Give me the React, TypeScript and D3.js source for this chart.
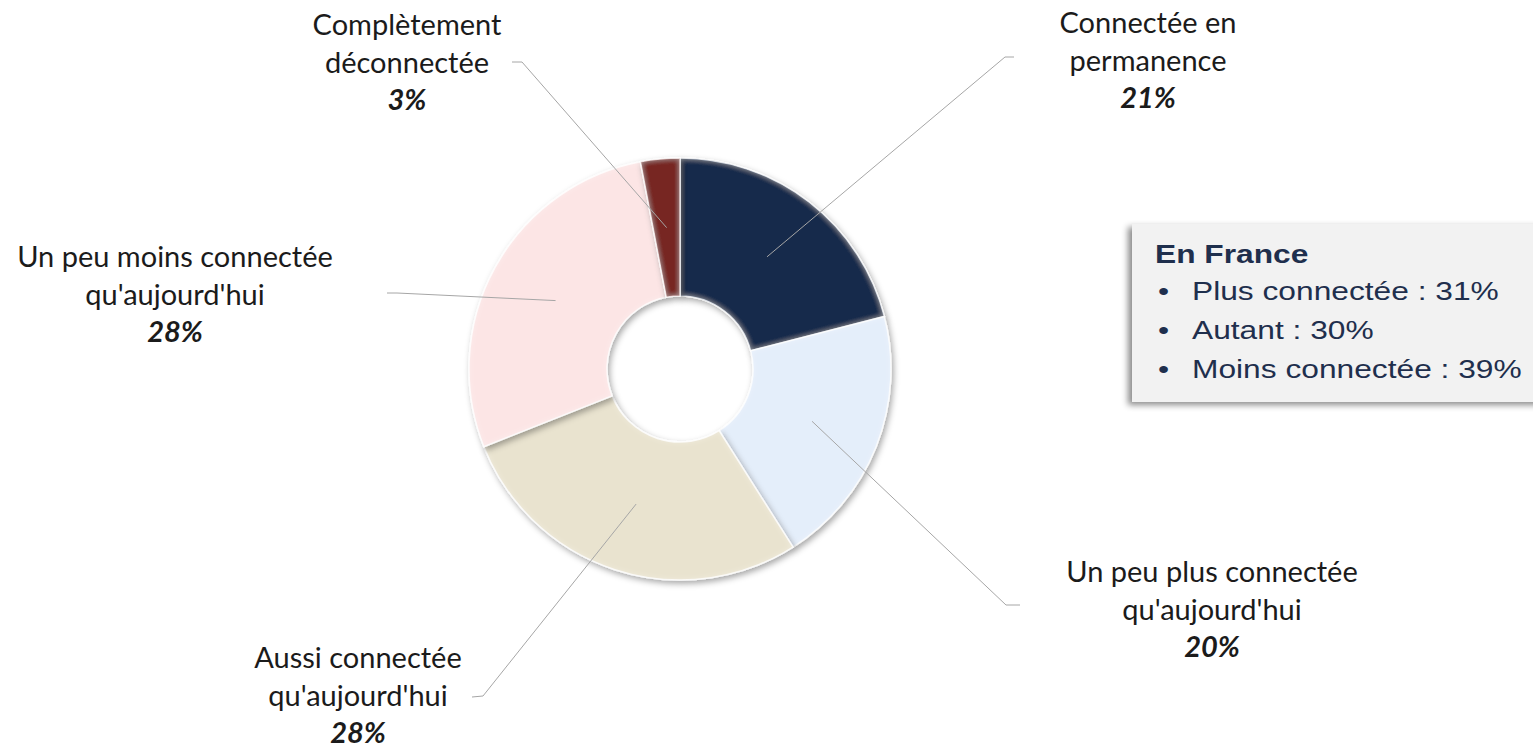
import React, { useRef, useEffect } from "react";
import * as d3 from "d3";

// Chart data
const categories = [
  "Connectée en permanence",
  "Un peu plus connectée qu'aujourd'hui",
  "Aussi connectée qu'aujourd'hui",
  "Un peu moins connectée qu'aujourd'hui",
  "Complètement déconnectée",
];
const values = [21, 20, 28, 28, 3];
const labelLines = [
  ["Connectée en", "permanence"],
  ["Un peu plus connectée", "qu'aujourd'hui"],
  ["Aussi connectée", "qu'aujourd'hui"],
  ["Un peu moins connectée", "qu'aujourd'hui"],
  ["Complètement", "déconnectée"],
];
const franceTitle = "En France";
const franceItems = ["Plus connectée : 31%", "Autant : 30%", "Moins connectée : 39%"];

// Styles / layout
const colors = ["#182B4C", "#E4EEFA", "#E9E3CF", "#FCE5E5", "#772623"];
// text centre x, first baseline, elbow point and end of leader line
const labelLayout = [
  { x: 1148, y: 33, elbow: [1005, 57], end: [1014, 57] },
  { x: 1212, y: 582, elbow: [1006, 605], end: [1020, 605] },
  { x: 358, y: 668, elbow: [483, 696], end: [472, 697] },
  { x: 175, y: 267, elbow: [397, 293], end: [387, 293] },
  { x: 407, y: 35, elbow: [522, 62], end: [512, 62] },
];

const W = 1533;
const H = 751;

const App = () => {
  const svgRef = useRef<SVGSVGElement>(null);

  useEffect(() => {
    const root = d3.select(svgRef.current);
    root.selectAll("*").remove();
    root.attr("width", W).attr("height", H);

    const defs = root.append("defs");

    // light rim + drop shadow for the slices
    const bevel = defs
      .append("filter")
      .attr("id", "bevel")
      .attr("x", "-20%")
      .attr("y", "-20%")
      .attr("width", "140%")
      .attr("height", "140%");
    bevel.append("feGaussianBlur").attr("in", "SourceAlpha").attr("stdDeviation", 3).attr("result", "blur");
    bevel
      .append("feComponentTransfer")
      .attr("in", "blur")
      .attr("result", "inv")
      .append("feFuncA")
      .attr("type", "table")
      .attr("tableValues", "1 0");
    bevel
      .append("feComposite")
      .attr("in", "inv")
      .attr("in2", "SourceAlpha")
      .attr("operator", "in")
      .attr("result", "rim");
    bevel.append("feFlood").attr("flood-color", "#ffffff").attr("flood-opacity", 0.4).attr("result", "white");
    bevel
      .append("feComposite")
      .attr("in", "white")
      .attr("in2", "rim")
      .attr("operator", "in")
      .attr("result", "rimW");
    bevel.append("feOffset").attr("in", "SourceAlpha").attr("dx", 2).attr("dy", 3).attr("result", "off");
    bevel.append("feGaussianBlur").attr("in", "off").attr("stdDeviation", 3).attr("result", "sh");
    bevel.append("feFlood").attr("flood-color", "#000").attr("flood-opacity", 0.35);
    bevel.append("feComposite").attr("in2", "sh").attr("operator", "in").attr("result", "shadow");
    const merge = bevel.append("feMerge");
    merge.append("feMergeNode").attr("in", "shadow");
    merge.append("feMergeNode").attr("in", "SourceGraphic");
    merge.append("feMergeNode").attr("in", "rimW");

    // shadow for the info box
    defs
      .append("filter")
      .attr("id", "boxShadow")
      .attr("x", "-10%")
      .attr("y", "-10%")
      .attr("width", "120%")
      .attr("height", "130%")
      .append("feDropShadow")
      .attr("dx", -4)
      .attr("dy", 3)
      .attr("stdDeviation", 3)
      .attr("flood-color", "#000")
      .attr("flood-opacity", 0.45);

    root.append("rect").attr("width", W).attr("height", H).attr("fill", "#fff");

    // Donut
    const cx = 680;
    const cy = 369;
    const innerRadius = 73;
    const outerRadius = 211;

    const pie = d3
      .pie<number>()
      .value((d) => d)
      .sort(null);
    const arc = d3.arc<d3.PieArcDatum<number>>().innerRadius(innerRadius).outerRadius(outerRadius);
    const arcs = pie(values);

    const g = root.append("g").attr("transform", `translate(${cx},${cy})`);

    g.selectAll("path.slice")
      .data(arcs)
      .enter()
      .append("path")
      .attr("class", "slice")
      .attr("d", arc)
      .attr("fill", (d, i) => colors[i])
      .attr("stroke", "#ffffff")
      .attr("stroke-opacity", 0.8)
      .attr("stroke-width", 1.5)
      .attr("filter", "url(#bevel)");

    // Leader lines
    const line = d3.line();
    root
      .append("g")
      .selectAll("path.leader")
      .data(arcs)
      .enter()
      .append("path")
      .attr("class", "leader")
      .attr("d", (d, i) => {
        const [px, py] = arc.centroid(d);
        const lay = labelLayout[i];
        return line([
          [cx + px, cy + py],
          lay.elbow as [number, number],
          lay.end as [number, number],
        ]);
      })
      .attr("fill", "none")
      .attr("stroke", "#A6A6A6")
      .attr("stroke-width", 1);

    // Labels
    const labels = root
      .append("g")
      .selectAll("text.label")
      .data(arcs)
      .enter()
      .append("text")
      .attr("class", "label")
      .attr("text-anchor", "middle")
      .attr("font-family", "Lato, 'Open Sans', sans-serif")
      .attr("font-size", 29)
      .attr("fill", "#1b1b1b");

    labels.each(function (d, i) {
      const t = d3.select(this);
      const lay = labelLayout[i];
      labelLines[i].forEach((s, j) => {
        t.append("tspan").attr("x", lay.x).attr("y", lay.y + j * 37.5).text(s);
      });
      t.append("tspan")
        .attr("x", lay.x)
        .attr("y", lay.y + 2 * 37.5)
        .attr("font-weight", "bold")
        .attr("font-style", "italic")
        .text(`${d.data}%`);
    });

    // Info box "En France"
    const box = root.append("g");
    box
      .append("rect")
      .attr("x", 1132)
      .attr("y", 224)
      .attr("width", 420)
      .attr("height", 178)
      .attr("fill", "#F2F2F2")
      .attr("filter", "url(#boxShadow)");

    const sx = 1.22;
    box
      .append("text")
      .attr("transform", `translate(1155,263) scale(${sx},1)`)
      .attr("font-family", "'Liberation Sans', Arial, sans-serif")
      .attr("font-size", 26)
      .attr("font-weight", "bold")
      .attr("fill", "#1F2F4D")
      .text(franceTitle);

    franceItems.forEach((s, i) => {
      const y = 300 + i * 39;
      box
        .append("text")
        .attr("transform", `translate(1158,${y}) scale(${sx},1)`)
        .attr("font-family", "'Liberation Sans', Arial, sans-serif")
        .attr("font-size", 26)
        .attr("fill", "#1F2F4D")
        .text("•");
      box
        .append("text")
        .attr("transform", `translate(1192,${y}) scale(${sx},1)`)
        .attr("font-family", "'Liberation Sans', Arial, sans-serif")
        .attr("font-size", 26)
        .attr("fill", "#1F2F4D")
        .text(s);
    });
  }, []);

  return (
    <svg
      ref={svgRef}
      style={{ position: "absolute", left: 0, top: 0, display: "block" }}
      aria-label={categories.join(", ")}
    ></svg>
  );
};

export default App;
